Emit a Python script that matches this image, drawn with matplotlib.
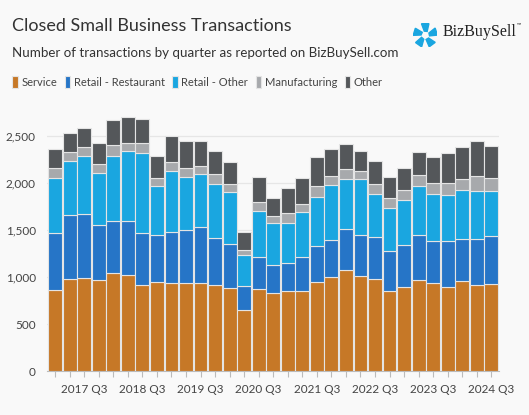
import numpy as np
import matplotlib.pyplot as plt
from matplotlib.patches import Polygon

plt.rcParams['font.family'] = ['Lato', 'DejaVu Sans']

# Квартальные данные (2017 Q1 – 2024 Q3)
years = [2017] * 4 + [2018] * 4 + [2019] * 4 + [2020] * 4 + [2021] * 4 + [2022] * 4 + [2023] * 4 + [2024] * 3
quarters = [1, 2, 3, 4] * 7 + [1, 2, 3]
service = [865, 979, 993, 972, 1046, 1018, 918, 943, 933, 940, 940, 911, 887, 652, 872, 833,
           848, 855, 950, 996, 1074, 1014, 982, 855, 897, 972, 940, 894, 961, 918, 929]
restaurant = [603, 684, 681, 585, 553, 581, 550, 504, 549, 564, 592, 500, 468, 256, 344, 291,
              304, 361, 383, 401, 433, 436, 440, 425, 447, 478, 447, 493, 447, 490, 511]
retail_other = [585, 575, 613, 549, 692, 741, 855, 518, 649, 560, 567, 575, 549, 326, 486, 447,
                422, 475, 518, 578, 536, 593, 465, 458, 475, 522, 500, 482, 521, 510, 475]
manufacturing = [110, 95, 100, 93, 117, 89, 99, 88, 96, 96, 78, 106, 82, 50, 99, 78,
                 103, 89, 117, 96, 109, 81, 106, 102, 103, 117, 117, 127, 117, 160, 142]
other = [202, 199, 198, 230, 266, 273, 259, 234, 277, 283, 273, 248, 237, 198, 259, 195,
         273, 270, 312, 291, 259, 216, 245, 220, 241, 244, 276, 320, 341, 369, 340]

series = [('Service', service, '#c67827'),
          ('Retail - Restaurant', restaurant, '#2675c7'),
          ('Retail - Other', retail_other, '#1aa6e0'),
          ('Manufacturing', manufacturing, '#a7a9ac'),
          ('Other', other, '#54575a')]

bg = '#f9f9f9'
fig = plt.figure(figsize=(5.29, 4.15), dpi=100, facecolor=bg)
ax = fig.add_axes([0.089, 0.106, 0.855, 0.634], facecolor=bg)

x = np.arange(len(years))
bottom = np.zeros(len(years))
for name, vals, color in series:
    ax.bar(x, vals, width=0.95, bottom=bottom, color=color, edgecolor='#e4e4e4',
           linewidth=0.8, label=name, zorder=3)
    bottom += np.array(vals)

ax.set_xlim(-0.55, len(years) - 0.45)
ax.set_ylim(0, 2800)
ax.set_yticks([0, 500, 1000, 1500, 2000, 2500])
ax.set_yticklabels(['0', '500', '1,000', '1,500', '2,000', '2,500'])
ax.grid(axis='y', color='#e6e6e6', linewidth=0.9, zorder=0)
ax.set_xticks(x)
ax.set_xticklabels([f'{y} Q{q}' if q == 3 else '' for y, q in zip(years, quarters)])
ax.tick_params(axis='x', length=4, color='#bbbbbb', pad=5, labelsize=8.5, labelcolor='#444444')
ax.tick_params(axis='y', length=0, pad=8, labelsize=8.5, labelcolor='#444444')
for s in ['top', 'right', 'left']:
    ax.spines[s].set_visible(False)
ax.spines['bottom'].set_color('#bbbbbb')

# Заголовки
fig.text(0.023, 0.925, 'Closed Small Business Transactions', fontsize=13, color='#333333')
fig.text(0.023, 0.862, 'Number of transactions by quarter as reported on BizBuySell.com',
         fontsize=9.6, color='#333333')

handles, labels = ax.get_legend_handles_labels()
fig.legend(handles, labels, loc='center left', bbox_to_anchor=(0.015, 0.802), ncol=5,
           frameon=False, fontsize=8, handlelength=0.5, handleheight=1.2,
           handletextpad=0.3, columnspacing=0.7, labelcolor='#444444', borderaxespad=0)

# Логотип
lax = fig.add_axes([0.781, 0.88, 0.046, 0.07])
lax.set_xlim(-1, 1)
lax.set_ylim(-1, 1)
lax.set_aspect('equal')
lax.axis('off')
for k in range(5):
    a = np.deg2rad(90 + k * 72)
    pts = []
    for r, da in [(0.35, -0.45), (1.0, -0.3), (1.0, 0.32), (0.35, 0.25)]:
        pts.append((r * np.cos(a + da), r * np.sin(a + da)))
    lax.add_patch(Polygon(pts, closed=True, color='#1aa6e0'))
logo = fig.text(0.836, 0.922, 'BizBuySell', family='Liberation Serif', fontsize=11.5,
                color='#222222', va='center')
fig.canvas.draw()
bb = logo.get_window_extent().transformed(fig.transFigure.inverted())
fig.text(bb.x1 + 0.002, 0.94, '™', fontsize=4, color='#222222', va='center')

fig.savefig('out.png', dpi=100, facecolor=bg)
